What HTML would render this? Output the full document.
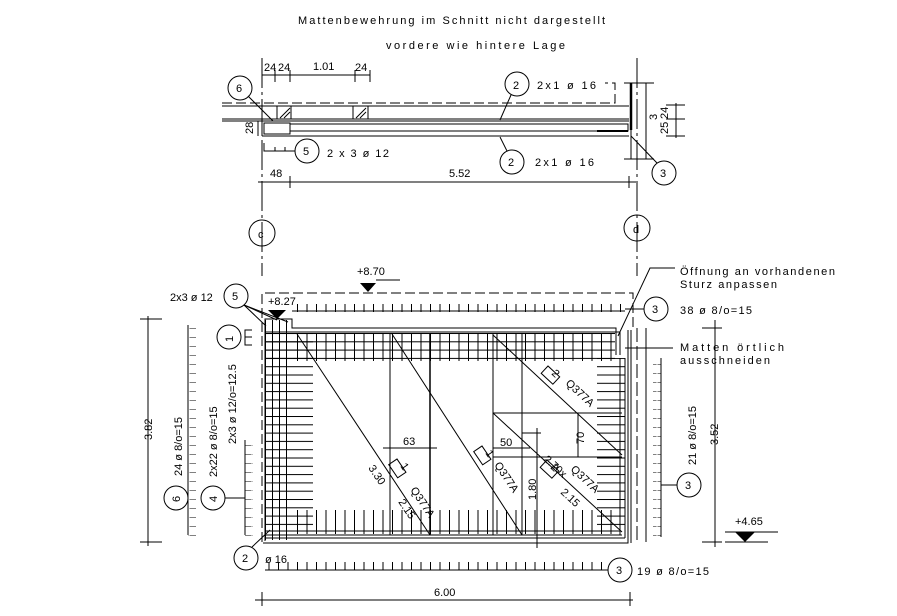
<!DOCTYPE html>
<html><head><meta charset="utf-8"><style>
html,body{margin:0;padding:0;background:#fff}
svg{display:block}
text{font-family:"Liberation Sans",sans-serif;font-size:11px;fill:#000}
</style></head><body>
<svg width="897" height="616" viewBox="0 0 897 616" xmlns="http://www.w3.org/2000/svg" stroke="#000" stroke-width="1" fill="none">
<defs>
<pattern id="hl" width="10" height="8.3" patternUnits="userSpaceOnUse" y="1"><line x1="0" y1="0.5" x2="10" y2="0.5" stroke="#000"/></pattern>
<pattern id="vt" width="9.5" height="10" patternUnits="userSpaceOnUse" x="297"><line x1="0.5" y1="0" x2="0.5" y2="10" stroke="#000"/></pattern>
<pattern id="vl" width="7" height="10" patternUnits="userSpaceOnUse" x="265"><line x1="0.5" y1="0" x2="0.5" y2="10" stroke="#000"/></pattern>
<pattern id="hs" width="9" height="9" patternUnits="userSpaceOnUse" y="319"><line x1="0.5" y1="0" x2="8.5" y2="0" stroke="#000"/></pattern>
</defs>
<g stroke="none">
<text x="298" y="24" font-size="12" textLength="307" lengthAdjust="spacing">Mattenbewehrung im Schnitt nicht dargestellt</text>
<text x="386" y="49" font-size="12" textLength="179" lengthAdjust="spacing">vordere wie hintere Lage</text>
</g>
<line x1="262" y1="58" x2="262" y2="276" stroke-dasharray="30,4,3,4"/>
<line x1="637" y1="58" x2="637" y2="276" stroke-dasharray="30,4,3,4"/>
<circle cx="262" cy="233" r="13"/><circle cx="637" cy="228" r="13"/>
<g stroke="none"><text x="258" y="238">c</text><text x="633" y="233">d</text></g>
<line x1="262" y1="75" x2="370" y2="75"/>
<g><line x1="262" y1="70" x2="262" y2="82"/><line x1="275" y1="70" x2="275" y2="82"/><line x1="290" y1="70" x2="290" y2="82"/><line x1="355" y1="70" x2="355" y2="82"/><line x1="370" y1="70" x2="370" y2="82"/></g>
<g stroke="none"><text x="264" y="71">24</text><text x="278" y="71">24</text><text x="313" y="70">1.01</text><text x="355" y="71">24</text></g>
<polyline points="222,103 615,103 615,83 605,83" stroke-dasharray="10,4"/>
<line x1="222" y1="106" x2="629" y2="106"/>
<line x1="222" y1="119" x2="629" y2="119"/>
<line x1="222" y1="121" x2="629" y2="121"/>
<line x1="262" y1="136" x2="629" y2="136"/>
<line x1="262" y1="121" x2="262" y2="136"/>
<rect x="264" y="123" width="26" height="11"/>
<rect x="290" y="124" width="338" height="7"/>
<line x1="597" y1="131" x2="628" y2="131" stroke-width="2"/>
<rect x="277" y="106" width="14" height="13"/><line x1="280" y1="118" x2="290" y2="108"/><line x1="284" y1="118" x2="290" y2="112"/>
<rect x="353" y="106" width="15" height="13"/><line x1="356" y1="118" x2="366" y2="108"/><line x1="360" y1="118" x2="366" y2="112"/>
<line x1="631" y1="83" x2="631" y2="130" stroke-width="2.5"/>
<line x1="631" y1="130" x2="631" y2="159"/>
<line x1="646" y1="83" x2="646" y2="159"/>
<line x1="624" y1="83" x2="654" y2="83"/><line x1="624" y1="159" x2="654" y2="159"/>
<line x1="676" y1="103" x2="676" y2="138"/>
<line x1="666" y1="105" x2="685" y2="105"/><line x1="666" y1="119" x2="685" y2="119"/><line x1="666" y1="136" x2="685" y2="136"/>
<g stroke="none"><text transform="translate(657,120) rotate(-90)">3</text><text transform="translate(668,134) rotate(-90)">25</text><text transform="translate(668,119) rotate(-90)">24</text><text transform="translate(253,134) rotate(-90)">28</text></g>
<line x1="258" y1="121" x2="258" y2="136"/>
<circle cx="240" cy="88" r="12"/><line x1="248" y1="96" x2="273" y2="121"/>
<circle cx="307" cy="151" r="12"/><polyline points="264,143 264,151 295,151"/><line x1="275" y1="147" x2="275" y2="151"/><line x1="285" y1="147" x2="285" y2="151"/>
<circle cx="517" cy="84" r="12"/><line x1="511" y1="95" x2="500" y2="120"/>
<circle cx="512" cy="162" r="12"/><line x1="507" y1="151" x2="500" y2="137"/>
<circle cx="664" cy="173" r="12"/><line x1="657" y1="163" x2="631" y2="136"/>
<g stroke="none"><text x="236" y="92">6</text><text x="303" y="155">5</text><text x="513" y="89">2</text><text x="508" y="166">2</text><text x="660" y="177">3</text>
<text x="327" y="157" textLength="62" lengthAdjust="spacing">2 x 3 ø 12</text><text x="537" y="89" textLength="59" lengthAdjust="spacing">2x1 ø 16</text><text x="535" y="166" textLength="59" lengthAdjust="spacing">2x1 ø 16</text>
<text x="270" y="177">48</text><text x="449" y="177">5.52</text></g>
<line x1="258" y1="182" x2="636" y2="182"/>
<line x1="290" y1="176" x2="290" y2="188"/><line x1="629" y1="176" x2="629" y2="188"/>
<g stroke="none"><text x="357" y="275">+8.70</text><polygon points="360,283 376,283 368,292" fill="#000"/>
<text x="268" y="305">+8.27</text><polygon points="268,310 286,310 277,319" fill="#000"/></g>
<line x1="376" y1="280" x2="400" y2="280"/>
<polyline points="262,542 262,293 633,293 633,330" stroke-dasharray="10,4"/>
<rect x="292" y="304" width="333" height="8" fill="url(#vt)" stroke="none"/>
<line x1="292" y1="311" x2="625" y2="311"/>
<circle cx="656" cy="309" r="12"/><line x1="625" y1="309" x2="644" y2="309"/>
<polyline points="265,541 265,319 292,319 292,328 616,328 616,355"/>
<line x1="265" y1="332" x2="620" y2="332"/>
<line x1="620" y1="332" x2="620" y2="355"/>
<polyline points="263,543 628,543 628,330"/>
<line x1="631" y1="330" x2="631" y2="543"/><line x1="637" y1="328" x2="637" y2="542" stroke-dasharray="14,4"/><line x1="646" y1="328" x2="646" y2="542"/>
<rect x="265" y="333" width="48" height="198" fill="url(#hl)" stroke="none"/>
<rect x="265" y="333" width="350" height="28" fill="url(#hl)" stroke="none"/>
<rect x="265" y="320" width="25" height="220" fill="url(#vl)" stroke="none"/>
<rect x="292" y="333" width="324" height="28" fill="url(#vt)" stroke="none"/>
<rect x="292" y="510" width="324" height="24" fill="url(#vt)" stroke="none"/>
<line x1="265" y1="531" x2="620" y2="531"/><line x1="265" y1="535" x2="622" y2="535"/><line x1="265" y1="538" x2="625" y2="538"/>
<rect x="597" y="358" width="28" height="172" fill="url(#hl)" stroke="none"/>
<line x1="620" y1="358" x2="620" y2="535"/><line x1="625" y1="358" x2="625" y2="538"/>
<line x1="297" y1="334" x2="430" y2="535"/>
<line x1="392" y1="334" x2="522" y2="535"/>
<line x1="493" y1="335" x2="622" y2="455"/>
<line x1="493" y1="413" x2="622" y2="532"/>
<line x1="390" y1="334" x2="390" y2="535"/><line x1="430" y1="334" x2="430" y2="535" stroke-width="1.5"/>
<line x1="493" y1="334" x2="493" y2="535"/><line x1="522" y1="334" x2="522" y2="535"/>
<line x1="493" y1="413" x2="622" y2="413"/><line x1="493" y1="457" x2="622" y2="457"/>
<line x1="578" y1="413" x2="578" y2="457"/>
<line x1="383" y1="448" x2="437" y2="448"/><line x1="493" y1="448" x2="530" y2="448"/>
<line x1="537" y1="428" x2="537" y2="548"/><line x1="522" y1="433" x2="541" y2="433"/>
<g stroke="none">
<text x="403" y="445">63</text><text x="500" y="446">50</text>
<text transform="translate(536,500) rotate(-90)">1.80</text><text transform="translate(584,444) rotate(-90)">70</text>
<text transform="translate(368,468) rotate(56)">3.30</text>
<text transform="translate(410,490) rotate(56)">Q377A</text><text transform="translate(398,502) rotate(56)">2.15</text>
<text transform="translate(494,465) rotate(56)">Q377A</text>
<text transform="translate(543,460) rotate(43)">2.70x</text><text transform="translate(560,493) rotate(43)">2.15</text>
<text transform="translate(570,470) rotate(43)">Q377A</text><text transform="translate(565,384) rotate(43)">Q377A</text></g>
<rect x="0" y="0" width="16" height="10" transform="translate(397,459) rotate(56)"/>
<rect x="0" y="0" width="16" height="10" transform="translate(482,446) rotate(56)"/>
<rect x="0" y="0" width="16" height="10" transform="translate(547,460) rotate(43)"/>
<rect x="0" y="0" width="16" height="10" transform="translate(548,366) rotate(43)"/>
<g stroke="none"><text transform="translate(400,466) rotate(56)">1</text><text transform="translate(485,453) rotate(56)">1</text><text transform="translate(550,468) rotate(43)">2</text><text transform="translate(551,374) rotate(43)">2</text></g>
<polyline points="618,336 650,268 675,268"/><line x1="625" y1="348" x2="673" y2="348"/>
<g stroke="none"><text x="680" y="275" textLength="155" lengthAdjust="spacing">Öffnung an vorhandenen</text><text x="680" y="288" textLength="97" lengthAdjust="spacing">Sturz anpassen</text>
<text x="680" y="351" textLength="104" lengthAdjust="spacing">Matten örtlich</text><text x="680" y="364" textLength="90" lengthAdjust="spacing">ausschneiden</text>
<text x="652" y="313">3</text><text x="680" y="314" textLength="72" lengthAdjust="spacing">38 ø 8/o=15</text></g>
<line x1="661" y1="358" x2="661" y2="537"/>
<rect x="653" y="358" width="8" height="180" fill="url(#hs)" stroke="none"/>
<circle cx="689" cy="485" r="12"/><line x1="661" y1="485" x2="677" y2="485"/>
<g stroke="none"><text x="685" y="489">3</text><text transform="translate(696,465) rotate(-90)">21 ø 8/o=15</text><text transform="translate(718,445) rotate(-90)">3.52</text>
<text x="735" y="525">+4.65</text><polygon points="735,532 755,532 745,542" fill="#000"/></g>
<line x1="715" y1="320" x2="715" y2="547"/><line x1="702" y1="328" x2="722" y2="328"/><line x1="702" y1="542" x2="722" y2="542"/>
<line x1="725" y1="532" x2="778" y2="532"/><line x1="725" y1="542" x2="768" y2="542"/>
<line x1="148" y1="316" x2="148" y2="546"/><line x1="140" y1="319" x2="162" y2="319"/><line x1="140" y1="542" x2="162" y2="542"/>
<line x1="188" y1="325" x2="188" y2="535"/>
<rect x="188" y="325" width="8" height="211" fill="url(#hs)" stroke="none"/>
<line x1="245" y1="440" x2="245" y2="535"/>
<rect x="245" y="440" width="8" height="96" fill="url(#hs)" stroke="none"/>
<circle cx="176" cy="498" r="12"/><circle cx="213" cy="498" r="12"/><line x1="225" y1="498" x2="245" y2="498"/>
<circle cx="229" cy="337" r="12"/><polyline points="252,330 245,330 245,345 252,345"/><line x1="245" y1="337" x2="252" y2="337"/>
<circle cx="236" cy="296" r="12"/><line x1="244" y1="305" x2="266" y2="326"/><line x1="244" y1="305" x2="277" y2="320"/><line x1="244" y1="305" x2="288" y2="322"/>
<circle cx="246" cy="558" r="12"/><line x1="252" y1="547" x2="270" y2="530"/>
<g stroke="none"><text x="232" y="300">5</text><text x="170" y="301">2x3 ø 12</text>
<text transform="translate(233,342) rotate(-90)">1</text><text transform="translate(180,502) rotate(-90)">6</text><text transform="translate(217,502) rotate(-90)">4</text>
<text x="242" y="562">2</text><text x="265" y="563">ø 16</text>
<text transform="translate(152,440) rotate(-90)">3.82</text>
<text transform="translate(182,476) rotate(-90)">24 ø 8/o=15</text>
<text transform="translate(217,477) rotate(-90)">2x22 ø 8/o=15</text>
<text transform="translate(236,444) rotate(-90)">2x3 ø 12/o=12.5</text></g>
<line x1="265" y1="570" x2="608" y2="570"/>
<rect x="265" y="562" width="343" height="8" fill="url(#vt)" stroke="none"/>
<circle cx="620" cy="570" r="12"/>
<g stroke="none"><text x="616" y="574">3</text><text x="637" y="575" textLength="72" lengthAdjust="spacing">19 ø 8/o=15</text><text x="434" y="596">6.00</text></g>
<line x1="255" y1="600" x2="633" y2="600"/><line x1="262" y1="592" x2="262" y2="606"/><line x1="630" y1="592" x2="630" y2="606"/>
</svg>
</body></html>
